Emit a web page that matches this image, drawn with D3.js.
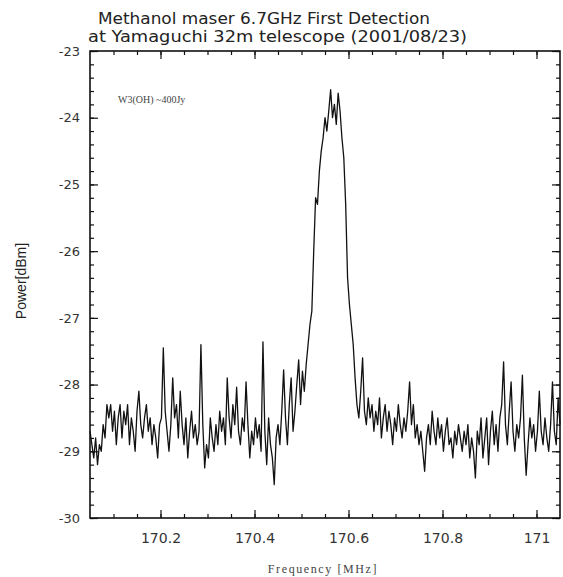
<!DOCTYPE html>
<html>
<head>
<meta charset="utf-8">
<script src="https://cdn.jsdelivr.net/npm/d3@7"></script>
<style>
    body { margin: 0; background: #fff; }
    svg { display: block; }
</style>
</head>
<body>
<svg id="canvas"></svg>
<script>
// channel grid of the spectrum
const freqStart = 170.05;
const freqStep = 0.004;

// measured power per channel [dBm]
const power = [
    -28.7, -28.9, -29.1, -28.8, -29.2, -28.9, -29.0, -28.6, -28.8, -28.3,
    -28.5, -28.3, -28.7, -28.4, -28.9, -28.5, -28.3, -28.8, -28.4, -28.6,
    -28.3, -28.9, -28.5, -28.7, -29.0, -28.4, -28.1, -28.6, -28.8, -28.5,
    -28.3, -28.7, -28.5, -28.9, -28.6, -28.8, -29.1, -28.6, -28.5, -27.45,
    -28.4, -28.7, -29.0, -28.6, -27.9, -28.5, -28.3, -28.8, -28.1, -28.6,
    -28.9, -28.5, -29.1, -28.7, -28.4, -28.8, -28.6, -28.9, -28.7, -27.4,
    -28.6, -29.25, -28.9, -29.1, -28.5, -28.8, -29.0, -28.6, -28.9, -28.4,
    -28.7, -28.5, -28.9, -27.9, -28.5, -28.8, -28.3, -28.6, -28.04, -28.7,
    -28.9, -28.5, -28.7, -27.96, -28.6, -29.1, -28.7, -28.9, -28.5, -28.8,
    -28.6, -29.0, -27.36, -28.7, -29.2, -28.5, -28.9, -29.1, -29.5, -28.8,
    -28.6, -28.9, -28.4, -27.78, -28.5, -28.9, -28.3, -27.9, -28.7, -28.4,
    -28.0, -27.63, -28.3, -27.8, -28.1, -27.7, -27.4, -27.1, -26.9, -26.0,
    -25.2, -25.3, -24.8, -24.5, -24.3, -24.0, -24.2, -23.9, -23.58, -24.0,
    -23.8, -24.1, -23.63, -23.9, -24.3, -24.6, -25.3, -26.4, -26.8, -27.1,
    -27.4, -27.9, -28.3, -28.5, -28.1, -27.6, -28.4, -28.6, -28.2, -28.5,
    -28.3, -28.7, -28.4, -28.6, -28.2, -28.8, -28.5, -28.3, -28.7, -28.4,
    -28.6, -28.9, -28.5, -28.7, -28.3, -28.6, -28.8, -28.5, -28.7, -28.4,
    -27.96, -28.6, -28.3, -28.8, -28.6, -28.9, -28.7, -29.0, -29.3, -28.8,
    -28.6, -28.9, -28.4, -28.7, -28.9, -28.5, -28.8, -28.6, -29.0, -28.7,
    -28.5, -28.9, -28.8, -29.1, -28.7, -28.9, -28.6, -28.8, -29.0, -28.7,
    -28.9, -28.6, -29.1, -28.8, -29.0, -29.4, -28.7, -28.9, -28.5, -29.1,
    -28.8, -28.5, -29.2, -28.7, -28.4, -28.9, -28.6, -29.0, -28.5, -28.3,
    -27.66, -28.6, -28.9, -28.4, -27.96, -28.7, -29.0, -28.6, -28.8, -28.5,
    -27.86, -28.8, -29.36, -28.9, -28.5, -28.8, -28.6, -29.0, -28.7, -28.1,
    -28.7, -28.9, -28.5, -28.8, -29.0, -28.6, -27.96, -28.7, -28.9, -28.2,
    -28.6
];

const xTicks = [170.2, 170.4, 170.6, 170.8, 171];
const yTicks = [-23, -24, -25, -26, -27, -28, -29, -30];
const titleLines = ['Methanol maser 6.7GHz First Detection', 'at Yamaguchi 32m telescope (2001/08/23)'];
const sourceLabel = 'W3(OH) ~400Jy';

const width = 563;
const height = 577;
const margin = {top: 51, right: 3, bottom: 59, left: 90};

const data = power.map((p, i) => ({f: freqStart + i * freqStep, p: p}));

const svg = d3.select('#canvas')
    .attr('width', width)
    .attr('height', height);

const x = d3.scaleLinear()
    .domain([170.05, 171.05])
    .range([margin.left, width - margin.right]);
const y = d3.scaleLinear()
    .domain([-30, -23])
    .range([height - margin.bottom, margin.top]);

const minorX = d3.range(170.1, 171.049, 0.05).map(d => +d.toFixed(2));
const minorY = d3.range(-30, -22.99, 0.2).map(d => +d.toFixed(1));

// inward ticks on all four sides
const tickAxis = (axis, scale, values, size) => axis(scale).tickValues(values).tickSize(-size).tickFormat('');
const drawTicks = (g) => {
    g.selectAll('.domain').remove();
    g.selectAll('line').attr('stroke', '#111').attr('stroke-width', 1.2);
};

const yb = height - margin.bottom;
const xr = width - margin.right;

svg.append('g').attr('transform', `translate(0,${yb})`).call(tickAxis(d3.axisBottom, x, minorX, 4)).call(drawTicks);
svg.append('g').attr('transform', `translate(0,${yb})`).call(tickAxis(d3.axisBottom, x, xTicks, 8)).call(drawTicks);
svg.append('g').attr('transform', `translate(0,${margin.top})`).call(tickAxis(d3.axisTop, x, minorX, 4)).call(drawTicks);
svg.append('g').attr('transform', `translate(0,${margin.top})`).call(tickAxis(d3.axisTop, x, xTicks, 8)).call(drawTicks);
svg.append('g').attr('transform', `translate(${margin.left},0)`).call(tickAxis(d3.axisLeft, y, minorY, 4)).call(drawTicks);
svg.append('g').attr('transform', `translate(${margin.left},0)`).call(tickAxis(d3.axisLeft, y, yTicks, 8)).call(drawTicks);
svg.append('g').attr('transform', `translate(${xr},0)`).call(tickAxis(d3.axisRight, y, minorY, 4)).call(drawTicks);
svg.append('g').attr('transform', `translate(${xr},0)`).call(tickAxis(d3.axisRight, y, yTicks, 8)).call(drawTicks);

// tick labels (plain hyphen like the original)
svg.append('g')
    .attr('transform', `translate(0,${yb})`)
    .call(d3.axisBottom(x).tickValues(xTicks).tickSize(0).tickPadding(15).tickFormat(d => String(d)))
    .call(g => g.select('.domain').remove())
    .selectAll('text')
    .attr('font-family', 'DejaVu Sans, sans-serif')
    .attr('font-size', 14)
    .attr('fill', '#333');

svg.append('g')
    .attr('transform', `translate(${margin.left},0)`)
    .call(d3.axisLeft(y).tickValues(yTicks).tickSize(0).tickPadding(10).tickFormat(d => String(d)))
    .call(g => g.select('.domain').remove())
    .selectAll('text')
    .attr('font-family', 'DejaVu Sans, sans-serif')
    .attr('font-size', 13)
    .attr('fill', '#333');

// spectrum
svg.append('path')
    .datum(data)
    .attr('fill', 'none')
    .attr('stroke', '#111')
    .attr('stroke-width', 1.3)
    .attr('stroke-linejoin', 'round')
    .attr('d', d3.line().x(d => x(d.f)).y(d => y(d.p)));

// frame
svg.append('rect')
    .attr('x', margin.left)
    .attr('y', margin.top)
    .attr('width', xr - margin.left)
    .attr('height', yb - margin.top)
    .attr('fill', 'none')
    .attr('stroke', '#111')
    .attr('stroke-width', 1.6);

// title
const titleWidths = [332, 379];
svg.append('g')
    .selectAll('text')
    .data(titleLines)
    .join('text')
    .attr('x', (d, i) => i === 0 ? 98 : 88)
    .attr('y', (d, i) => 24 + i * 18)
    .attr('textLength', (d, i) => titleWidths[i])
    .attr('lengthAdjust', 'spacingAndGlyphs')
    .attr('font-family', 'DejaVu Sans, sans-serif')
    .attr('font-size', 15)
    .attr('fill', '#222')
    .text(d => d);

svg.append('text')
    .attr('x', 118)
    .attr('y', 103)
    .attr('font-family', 'Liberation Serif, serif')
    .attr('font-size', 10)
    .attr('fill', '#444')
    .text(sourceLabel);

// axis titles
svg.append('text')
    .attr('transform', 'translate(26,281) rotate(-90)')
    .attr('text-anchor', 'middle')
    .attr('font-family', 'Liberation Sans, Arial, sans-serif')
    .attr('font-size', 14)
    .attr('fill', '#222')
    .text('Power[dBm]');

svg.append('text')
    .attr('x', 323)
    .attr('y', 573)
    .attr('text-anchor', 'middle')
    .attr('font-family', 'Liberation Serif, serif')
    .attr('font-size', 12)
    .attr('letter-spacing', 1.6)
    .attr('fill', '#444')
    .text('Frequency [MHz]');
</script>
</body>
</html>
